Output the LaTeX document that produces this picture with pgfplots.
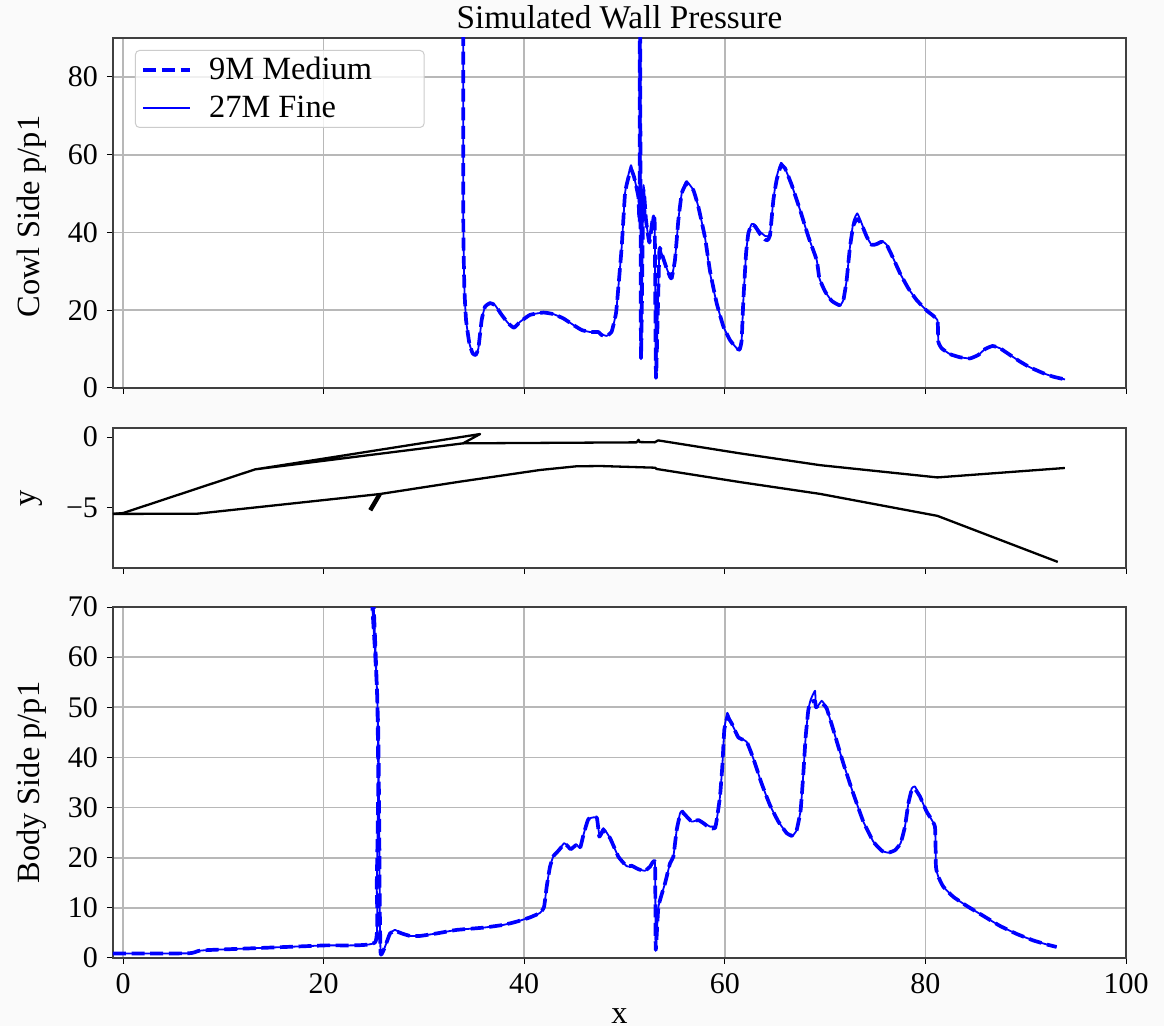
\documentclass[border=0pt]{standalone}
\usepackage{fontspec}
\setmainfont{Liberation Serif}
\usepackage{pgfplots}
\usepackage{pgfplotstable}
\pgfplotsset{compat=1.18}
\definecolor{bgc}{HTML}{FAFAFA}
\definecolor{gridc}{HTML}{B8B8B8}
\definecolor{spinec}{HTML}{404040}
\pgfplotstableread{
x fine med
33.93 120 120
33.93 43.2 43.2
34.03 26.0 26.0
34.20 17.5 17.5
34.53 11.5 11.5
34.86 8.9 8.9
35.16 8.3 8.5
35.43 10.2 10.2
35.76 17.5 17.5
36.09 20.9 20.9
36.59 22.0 21.8
37.09 21.3 21.3
37.75 18.8 18.8
38.42 16.6 16.6
38.98 15.5 15.5
39.58 17.0 17.0
40.58 18.8 18.8
41.91 19.4 19.4
42.90 19.0 19.0
43.90 17.9 17.9
44.90 16.2 16.2
45.73 14.9 14.9
46.56 14.4 14.4
47.39 14.2 14.4
47.72 13.8 13.6
48.22 13.4 13.4
48.72 14.5 14.5
49.15 19.2 19.2
49.39 26.0 26.0
49.72 36.3 36.3
50.05 50.0 50.0
50.38 54.7 54.0
50.65 57.3 56.2
50.95 54.3 54.3
51.38 49.2 49.2
51.51 44.0 44.0
51.54 120 120
51.64 8.0 8.0
51.88 51.8 50.5
52.14 43.2 43.2
52.48 37.6 37.4
52.81 44.0 43.5
53.01 42.3 42.3
53.14 2.6 2.6
53.47 35.5 35.0
53.70 34.6 34.6
54.14 31.2 31.2
54.54 28.6 28.6
54.70 28.4 28.2
55.03 32.9 32.9
55.37 43.2 43.2
55.70 50.0 50.0
56.03 52.6 52.0
56.20 53.2 52.6
56.86 50.9 50.9
57.36 46.6 46.6
58.03 38.6 38.6
58.53 29.5 30.0
59.19 21.8 21.8
59.86 15.8 15.8
60.52 12.3 12.3
61.19 10.2 10.2
61.48 9.6 9.9
61.68 12.3 12.3
61.85 22.6 22.6
62.12 34.6 34.6
62.35 39.8 39.8
62.68 42.2 42.0
63.01 41.9 41.6
63.51 40.2 39.6
64.01 39.1 38.2
64.25 39.0 38.0
64.51 39.8 39.3
64.84 48.3 48.3
65.17 54.3 53.5
65.60 57.9 57.2
66.00 56.5 56.5
66.67 52.2 52.2
67.50 45.8 45.8
68.33 38.9 38.9
69.16 32.9 32.9
69.43 28.2 28.2
70.00 24.8 24.8
70.66 22.4 22.4
71.42 21.1 21.3
71.82 22.6 22.6
72.15 27.8 27.8
72.48 36.3 36.3
72.82 42.8 41.8
73.21 44.9 43.5
73.65 42.3 42.0
74.15 38.9 38.9
74.64 36.8 36.8
75.14 37.0 37.0
75.64 37.8 37.6
76.14 36.8 36.8
76.80 33.3 33.3
77.47 29.5 29.5
78.30 25.6 25.6
79.13 22.6 22.6
80.13 19.9 19.9
81.19 17.5 17.5
81.29 11.9 11.9
81.62 10.2 10.2
82.45 8.7 8.7
83.45 7.9 7.9
84.45 7.6 7.6
85.28 8.5 8.5
85.94 10.0 10.0
86.70 10.8 10.8
87.44 10.2 10.2
88.43 8.5 8.5
89.43 6.8 6.8
90.43 5.3 5.3
91.76 3.8 3.8
92.75 2.9 2.9
93.92 2.2 2.2
}\cowl
\pgfplotstableread{
x fine med
-1.00 0.9 0.9
6.51 0.93 0.93
7.51 1.4 1.4
8.67 1.6 1.6
19.97 2.5 2.5
25.13 3.1 3.1
25.30 15 15
25.45 35 35
25.35 52 52
25.10 62 62
24.80 72 72
24.95 72 72
25.20 60 60
25.45 45 45
25.55 25 25
25.60 10 10
25.69 0.7 0.7
26.13 2.3 2.3
26.62 4.9 4.9
27.12 5.6 5.4
27.79 4.9 4.9
28.62 4.4 4.4
29.62 4.4 4.4
31.28 4.9 4.9
33.27 5.6 5.6
35.93 6.05 6.05
37.92 6.6 6.6
39.25 7.25 7.25
40.58 8.1 8.1
41.58 9.0 9.0
41.98 10.2 10.2
42.24 14.2 14.2
42.57 18.2 18.2
42.91 20.3 20.3
43.41 21.4 21.4
43.97 22.9 22.7
44.24 22.5 22.5
44.64 21.7 21.7
45.17 22.7 22.5
45.57 21.9 21.9
45.90 24.5 24.5
46.40 27.7 27.7
47.23 28.0 28.0
47.49 24.5 24.2
47.89 25.9 25.5
48.56 23.9 23.9
49.39 20.2 20.2
50.22 18.3 18.3
50.72 18.2 18.4
51.38 17.7 17.7
52.04 17.4 17.4
52.54 18.2 18.2
53.04 19.0 19.0
53.11 1.6 1.6
53.38 10.2 10.2
54.04 14.9 14.9
54.54 18.9 18.9
54.87 20.2 20.2
55.20 25.5 25.5
55.54 28.9 28.6
55.80 29.4 29.0
56.20 28.2 28.2
56.70 27.2 27.2
57.36 27.5 27.5
57.86 27.0 26.9
58.53 26.2 25.9
59.02 26.3 25.9
59.19 27.5 27.5
59.52 32.2 32.2
59.75 38.2 38.2
59.95 45.5 45.5
60.25 48.9 48.0
60.68 46.8 46.8
61.35 44.1 44.0
62.18 43.1 43.1
62.84 39.8 39.8
63.67 34.8 34.8
64.50 30.5 30.5
65.34 27.2 27.2
66.17 24.9 24.9
66.67 24.2 24.4
67.16 25.5 25.5
67.56 29.5 29.5
67.83 36.8 36.8
68.06 44.1 44.1
68.33 49.5 49.5
68.56 51.5 51.0
69.00 53.3 51.3
69.09 49.8 50.0
69.66 51.3 50.8
70.15 49.8 49.8
70.82 45.5 45.5
71.82 38.8 38.8
72.81 32.8 32.8
73.81 27.2 27.2
74.81 23.2 23.2
75.64 21.4 21.4
76.30 21.0 21.0
76.97 21.5 21.5
77.53 22.9 22.9
77.96 26.2 26.2
78.30 30.8 30.8
78.63 33.8 33.5
78.96 34.2 33.7
79.46 32.2 32.2
80.12 29.2 29.2
80.95 26.2 26.2
81.05 18.2 18.2
81.29 16.2 16.2
81.79 14.2 14.2
82.78 12.2 12.2
84.11 10.4 10.4
85.77 8.4 8.4
87.43 6.4 6.4
89.10 4.8 4.8
90.76 3.5 3.5
92.09 2.7 2.7
93.08 2.2 2.2
}\body
\pgfplotsset{
  common/.style={
    scale only axis, width=506.5pt, xmin=-1, xmax=100,
    xtick={0,20,40,60,80,100}, xtick pos=lower, ytick pos=left,
    tick align=outside, major tick length=3pt,
    every tick/.style={black,line width=0.5pt},
    axis line style={spinec,line width=0.8pt},
    axis background/.style={fill=white},
    grid style={gridc,line width=0.85pt},
    tick label style={font=\fontsize{15}{15}\selectfont},
    label style={font=\fontsize{16.2}{16.2}\selectfont},
    /pgf/number format/assume math mode=true,
    xticklabel style={yshift=-1pt},
    yticklabel style={xshift=-1pt},
    clip=true,
  },
  medium/.style={color=blue,line width=1.85pt,line join=round,dash pattern=on 6.5pt off 2.8pt},
  finel/.style={color=blue,line width=0.9pt,line join=round},
  smoothed/.style={smooth,tension=0.25},
  geo/.style={black,line width=1.15pt,line join=round},
}
\begin{document}
\begin{tikzpicture}
\path[use as bounding box,fill=bgc] (0,0) rectangle (582pt,513pt);
\begin{axis}[common, at={(56.5pt,319pt)}, anchor=south west, height=175pt,
  ymin=0, ymax=90, ytick={0,20,40,60,80}, xticklabels={}, grid=both,
  title={Simulated Wall Pressure},
  title style={font=\fontsize{16.6}{16.6}\selectfont, at={(axis description cs:0.5,1)}, anchor=south, yshift=-5pt},
  ylabel={Cowl Side p/p1},
  ylabel style={at={(axis description cs:-0.08,0.49)},anchor=center},
  legend cell align=left,
  legend style={at={(axis description cs:0.0217,0.9657)},anchor=north west,
    draw=black!20,line width=0.5pt,rounded corners=2pt,fill=white,fill opacity=0.8,text opacity=1,
    font=\fontsize{16.2}{16.2}\selectfont, row sep=2.5pt, inner xsep=3pt, inner ysep=1.5pt},
  legend image code/.code={\draw[#1] (0pt,0pt) -- (23.5pt,0pt);},
]
\addplot[medium,smoothed] table[x=x,y=med] {\cowl};
\addlegendentry{\hspace*{6.5pt}9M Medium\hspace*{21pt}}
\addplot[finel,smoothed] table[x=x,y=fine] {\cowl};
\addlegendentry{\hspace*{6.5pt}27M Fine}
\end{axis}
\begin{axis}[common, at={(56.5pt,229pt)}, anchor=south west, height=70pt,
  ymin=-9.3, ymax=0.64, ytick={-5,0}, yticklabels={−5,0}, xticklabels={},
  ylabel={y},
  ylabel style={at={(axis description cs:-0.08,0.5)},anchor=center},
]
\addplot[geo] coordinates {(-1,-5.46) (7.35,-5.45) (25.6,-4.05) (33.6,-3.17) (41.6,-2.34) (45.2,-2.08) (47.6,-2.06) (53.04,-2.18) (53.2,-2.27) (61.5,-3.2) (69.5,-4.04) (81.2,-5.6) (93.2,-8.87)};
\addplot[geo] coordinates {(-1,-5.46) (0,-5.4) (13.16,-2.3) (35.6,0.21) (33.9,-0.45) (13.16,-2.3)};
\addplot[geo] coordinates {(33.9,-0.45) (51.2,-0.38) (51.4,-0.2) (51.5,-0.36) (53.0,-0.38) (53.35,-0.24) (61.5,-1.16) (69.5,-2.0) (81.2,-2.87) (93.9,-2.2)};
\addplot[black,line width=2.2pt] coordinates {(25.6,-4.05) (24.65,-5.2)};
\end{axis}
\begin{axis}[common, at={(56.5pt,34pt)}, anchor=south west, height=175.5pt,
  ymin=0, ymax=70, ytick={0,10,...,70}, grid=both,
  xlabel={x},
  xlabel style={at={(axis description cs:0.5,-0.165)},anchor=center},
  ylabel={Body Side p/p1},
  ylabel style={at={(axis description cs:-0.08,0.5)},anchor=center},
]
\addplot[medium,smoothed] table[x=x,y=med] {\body};
\addplot[finel,smoothed] table[x=x,y=fine] {\body};
\end{axis}
\end{tikzpicture}
\end{document}
